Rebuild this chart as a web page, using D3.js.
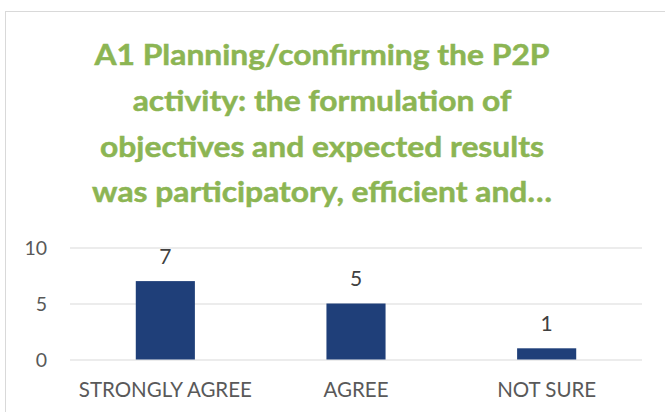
<!DOCTYPE html>
<html>
<head>
<meta charset="utf-8">
<script src="https://cdn.jsdelivr.net/npm/d3@7"></script>
<style>
  body { margin: 0; background: #fff; }
  text { font-family: Lato, "Open Sans", sans-serif; }
</style>
</head>
<body>
<div id="chart"></div>
<script>
// chart data
const titleLines = [
    "A1 Planning/confirming the P2P",
    "activity: the formulation of",
    "objectives and expected results",
    "was participatory, efficient and\u2026"
];
const categories = ["STRONGLY AGREE", "AGREE", "NOT SURE"];
const values = [7, 5, 1];
const yTicks = [0, 5, 10];

const width = 665, height = 412;
const plot = { left: 70, right: 642, top: 247.5, bottom: 359.5 };

const svg = d3.select('#chart')
    .append('svg')
    .attr('width', width)
    .attr('height', height);

// chart frame
svg.append('rect')
    .attr('x', 5.5)
    .attr('y', 11.5)
    .attr('width', 700)
    .attr('height', 450)
    .attr('fill', '#fff')
    .attr('stroke', '#d9d9d9')
    .attr('stroke-width', 1);

// title: sized for cap height, squeezed horizontally so the widest line is ~460px
const titleX = 322;
const title = svg.append('g');
const titleText = title.selectAll('text')
    .data(titleLines)
    .enter()
    .append('text')
    .attr('x', 0)
    .attr('y', (d, i) => 65 + i * 45.8)
    .attr('text-anchor', 'middle')
    .style('font-weight', 'bold')
    .style('font-size', '29.5px')
    .style('fill', '#8cb553')
    .style('stroke', '#8cb553')
    .style('stroke-width', '0.5px')
    .text(d => d);

let widest = 0;
titleText.each(function() { widest = Math.max(widest, this.getComputedTextLength()); });
title.attr('transform', `translate(${titleX},0) scale(${460 / widest},1)`);

const x = d3.scaleBand()
    .domain(categories)
    .range([plot.left, plot.right])
    .paddingInner(0.69)
    .paddingOuter(0.345);

const y = d3.scaleLinear()
    .domain([0, 10])
    .range([plot.bottom, plot.top]);

// gridlines + y tick labels
const yAxis = d3.axisLeft(y)
    .tickValues(yTicks)
    .tickSize(-(plot.right - plot.left))
    .tickPadding(23);

const gy = svg.append('g')
    .attr('transform', `translate(${plot.left},0)`)
    .call(yAxis);
gy.select('.domain').remove();
gy.selectAll('.tick line')
    .attr('stroke', '#d9d9d9')
    .attr('stroke-width', 1);
gy.selectAll('.tick text')
    .attr('fill', '#595959')
    .style('font-size', '19.5px')
    .attr('dy', '0.36em');

// bars
svg.append('g')
    .selectAll('rect')
    .data(values)
    .enter()
    .append('rect')
    .attr('x', (d, i) => x(categories[i]))
    .attr('y', d => y(d))
    .attr('width', x.bandwidth())
    .attr('height', d => y(0) - y(d))
    .attr('fill', '#1f3f79');

// value labels
svg.append('g')
    .selectAll('text')
    .data(values)
    .enter()
    .append('text')
    .attr('x', (d, i) => x(categories[i]) + x.bandwidth() / 2)
    .attr('y', d => y(d) - 17.5)
    .attr('text-anchor', 'middle')
    .style('font-size', '21px')
    .style('fill', '#404040')
    .text(d => d);

// category labels
const gx = svg.append('g')
    .attr('transform', `translate(0,${plot.bottom})`)
    .call(d3.axisBottom(x).tickSize(0).tickPadding(0));
gx.select('.domain').remove();
gx.selectAll('.tick text')
    .attr('y', 37)
    .attr('dy', 0)
    .attr('fill', '#595959')
    .style('font-size', '20.5px');
</script>
</body>
</html>
